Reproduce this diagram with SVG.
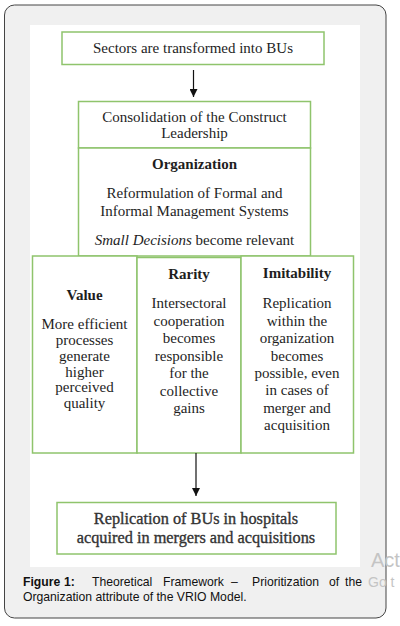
<svg xmlns="http://www.w3.org/2000/svg" width="400" height="626" viewBox="0 0 400 626">
<style>
.box{fill:#ffffff;stroke:#8fc46c;stroke-width:1.5}
.t{font-family:"Liberation Serif",serif;font-size:15px;fill:#1e1e1e;text-anchor:middle}
.b{font-weight:bold}
.f{font-family:"Liberation Serif",serif;font-size:16.3px;fill:#333;text-anchor:middle;stroke:#333;stroke-width:0.35}
.cap{font-family:"Liberation Sans",Arial,sans-serif;font-size:12.2px;fill:#111}
.wm{font-family:"Liberation Sans",Arial,sans-serif;fill:#c4c4c4}
.conn{stroke:#111;stroke-width:1.2;fill:none}
</style>
<defs>
<marker id="ah" viewBox="0 0 10 10" refX="10" refY="5" markerWidth="8" markerHeight="8" markerUnits="userSpaceOnUse" orient="auto">
<path d="M0,0 L10,5 L0,10 z" fill="#111"/>
</marker>
</defs>
<rect x="4.5" y="5" width="381.5" height="613" rx="10" fill="#f0f0f0" stroke="#444" stroke-width="1"/>
<rect x="30" y="25" width="330" height="542" fill="#ffffff"/>

<g id="n1">
<rect class="box" x="62" y="32" width="262" height="32.5"/>
<text class="t" x="193" y="53">Sectors are transformed into BUs</text>
</g>
<g id="n2">
<rect class="box" x="78.5" y="101.5" width="232" height="46.5"/>
<text class="t" x="194.5" y="122">Consolidation of the Construct</text>
<text class="t" x="194.5" y="138">Leadership</text>
</g>
<g id="n3">
<rect class="box" x="78.5" y="148" width="232" height="108"/>
<text class="t b" x="194.5" y="169">Organization</text>
<text class="t" x="194.5" y="198">Reformulation of Formal and</text>
<text class="t" x="194.5" y="216">Informal Management Systems</text>
<text class="t" x="194.5" y="245"><tspan font-style="italic">Small Decisions</tspan> become relevant</text>
</g>
<g id="n4">
<rect class="box" x="32.5" y="256" width="104.5" height="197"/>
<text class="t b" x="84.5" y="300">Value</text>
<text class="t" x="84.5" y="329">More efficient</text>
<text class="t" x="84.5" y="345">processes</text>
<text class="t" x="84.5" y="361">generate</text>
<text class="t" x="84.5" y="377">higher</text>
<text class="t" x="84.5" y="392">perceived</text>
<text class="t" x="84.5" y="408">quality</text>
</g>
<g id="n5">
<rect class="box" x="137" y="257.5" width="104" height="195.5"/>
<text class="t b" x="189" y="279">Rarity</text>
<text class="t" x="189" y="308">Intersectoral</text>
<text class="t" x="189" y="326">cooperation</text>
<text class="t" x="189" y="343">becomes</text>
<text class="t" x="189" y="361">responsible</text>
<text class="t" x="189" y="378">for the</text>
<text class="t" x="189" y="396">collective</text>
<text class="t" x="189" y="413">gains</text>
</g>
<g id="n6">
<rect class="box" x="241" y="256" width="112.5" height="197"/>
<text class="t b" x="297" y="278">Imitability</text>
<text class="t" x="297" y="308">Replication</text>
<text class="t" x="297" y="326">within the</text>
<text class="t" x="297" y="343">organization</text>
<text class="t" x="297" y="361">becomes</text>
<text class="t" x="297" y="378">possible, even</text>
<text class="t" x="297" y="395">in cases of</text>
<text class="t" x="297" y="413">merger and</text>
<text class="t" x="297" y="430">acquisition</text>
</g>
<g id="n7">
<rect class="box" x="57" y="502.5" width="279" height="51.5"/>
<text class="f" x="196" y="524">Replication of BUs in hospitals</text>
<text class="f" x="196" y="543">acquired in mergers and acquisitions</text>
</g>

<g id="connectors">
<line class="conn" x1="193.5" y1="70" x2="193.5" y2="97" marker-end="url(#ah)"/>
<line class="conn" x1="196" y1="453" x2="196" y2="496" marker-end="url(#ah)"/>
</g>

<text class="cap" y="586"><tspan x="23" font-weight="bold">Figure</tspan><tspan x="64" font-weight="bold">1:</tspan><tspan x="92">Theoretical</tspan><tspan x="163">Framework</tspan><tspan x="231">–</tspan><tspan x="252">Prioritization</tspan><tspan x="329">of</tspan><tspan x="345">the</tspan></text>
<text class="cap" x="23" y="601">Organization attribute of the VRIO Model.</text>

<text class="wm" x="371" y="567" font-size="20">Act</text>
<text class="wm" x="368" y="587" font-size="14">Go t</text>
</svg>
